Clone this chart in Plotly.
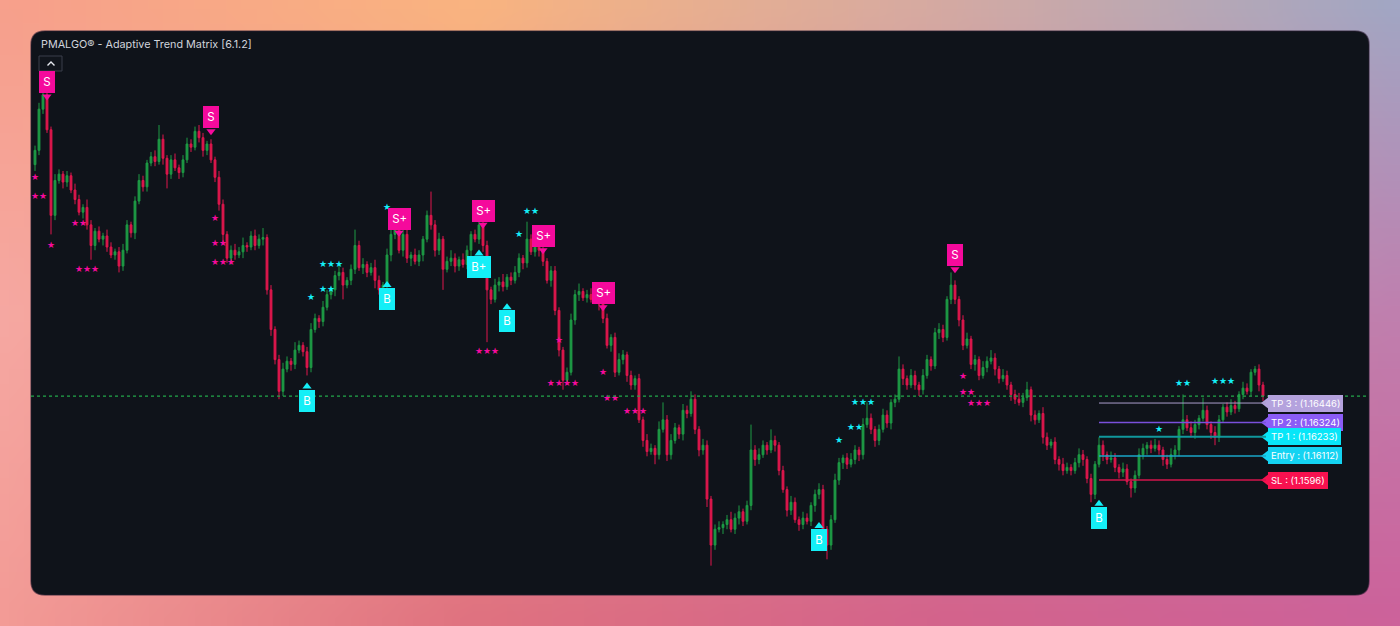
import base64, struct, zlib
import numpy as np
import plotly.graph_objects as go

# ---------------- data ----------------
first_open = 1.1795
closes = [
    1.1804,1.1830,1.1839,1.1817,1.1763,1.1785,1.1789,1.1784,1.1788,1.1779,
    1.1773,1.1765,1.1768,1.1757,1.1744,1.1753,1.1748,1.1750,1.1743,1.1738,
    1.1740,1.1731,1.1741,1.1757,1.1752,1.1772,1.1785,1.1781,1.1796,1.1800,
    1.1797,1.1811,1.1799,1.1789,1.1798,1.1793,1.1790,1.1798,1.1808,1.1806,
    1.1816,1.1812,1.1804,1.1808,1.1798,1.1787,1.1770,1.1751,1.1736,1.1741,
    1.1738,1.1740,1.1744,1.1743,1.1750,1.1744,1.1748,1.1749,1.1716,1.1691,
    1.1672,1.1652,1.1666,1.1671,1.1669,1.1678,1.1681,1.1677,1.1667,1.1691,
    1.1698,1.1696,1.1705,1.1713,1.1716,1.1725,1.1727,1.1719,1.1722,1.1729,
    1.1744,1.1730,1.1732,1.1727,1.1730,1.1722,1.1716,1.1719,1.1738,1.1751,
    1.1755,1.1741,1.1751,1.1736,1.1738,1.1734,1.1738,1.1748,1.1763,1.1757,
    1.1741,1.1748,1.1729,1.1734,1.1736,1.1731,1.1735,1.1732,1.1741,1.1751,
    1.1748,1.1757,1.1744,1.1716,1.1710,1.1719,1.1721,1.1718,1.1724,1.1722,
    1.1727,1.1736,1.1733,1.1748,1.1740,1.1743,1.1741,1.1734,1.1722,1.1728,
    1.1703,1.1678,1.1659,1.1664,1.1697,1.1713,1.1715,1.1711,1.1713,1.1710,
    1.1712,1.1707,1.1698,1.1681,1.1686,1.1664,1.1672,1.1675,1.1662,1.1656,
    1.1660,1.1634,1.1621,1.1614,1.1616,1.1612,1.1628,1.1634,1.1612,1.1621,
    1.1629,1.1625,1.1640,1.1638,1.1647,1.1628,1.1615,1.1618,1.1584,1.1555,
    1.1565,1.1566,1.1568,1.1571,1.1565,1.1572,1.1576,1.1570,1.1580,1.1615,
    1.1609,1.1612,1.1618,1.1615,1.1621,1.1618,1.1602,1.1590,1.1577,1.1582,
    1.1571,1.1568,1.1572,1.1570,1.1580,1.1587,1.1590,1.1565,1.1555,1.1571,
    1.1596,1.1607,1.1610,1.1606,1.1609,1.1615,1.1612,1.1631,1.1635,1.1628,
    1.1621,1.1628,1.1637,1.1632,1.1645,1.1647,1.1666,1.1660,1.1656,1.1662,
    1.1656,1.1653,1.1662,1.1672,1.1668,1.1689,1.1691,1.1686,1.1710,1.1719,
    1.1710,1.1697,1.1681,1.1685,1.1669,1.1672,1.1662,1.1667,1.1671,1.1673,
    1.1666,1.1660,1.1662,1.1656,1.1650,1.1647,1.1645,1.1648,1.1653,1.1637,
    1.1634,1.1638,1.1623,1.1618,1.1620,1.1609,1.1606,1.1602,1.1604,1.1602,
    1.1607,1.1612,1.1609,1.1597,1.1587,1.1606,1.1618,1.1612,1.1609,1.1610,
    1.1604,1.1601,1.1603,1.1595,1.1591,1.1599,1.1612,1.1616,1.1618,1.1616,
    1.1618,1.1615,1.1609,1.1606,1.1612,1.1615,1.1628,1.1634,1.1629,1.1626,
    1.1631,1.1635,1.1640,1.1631,1.1626,1.1623,1.1634,1.1642,1.1639,1.1643,
    1.1641,1.1650,1.1654,1.1652,1.1664,1.1666,1.1656,1.1649,
]
upper_wick_pips = [
    3,4,2,3,2,4,3,2,3,2,
    4,3,2,5,3,2,3,2,4,3,
    2,3,4,3,2,3,4,3,2,3,
    4,9,3,2,3,4,2,3,4,3,
    3,4,3,2,3,2,4,3,2,3,
    4,3,5,2,3,4,3,6,2,3,
    2,3,4,3,2,5,3,2,3,4,
    3,2,4,3,2,3,4,3,2,3,
    10,3,4,2,3,5,3,2,4,3,
    8,4,5,3,2,4,3,2,3,15,
    3,4,2,3,5,3,2,4,3,2,
    3,4,2,3,2,4,3,5,2,3,
    4,3,2,11,3,4,2,3,2,3,
    3,2,2,3,4,3,5,2,3,4,
    3,2,4,3,2,3,4,3,2,3,
    2,3,2,4,3,2,5,11,3,4,
    3,2,4,3,5,3,2,4,3,2,
    3,4,2,3,5,3,4,2,3,16,
    3,4,3,2,7,3,2,3,2,4,
    3,2,4,3,2,3,4,3,2,3,
    4,3,2,3,4,3,2,4,10,3,
    2,3,4,3,2,3,8,3,2,4,
    3,2,4,3,2,3,4,3,2,8,
    3,2,3,4,2,3,2,4,3,5,
    3,2,4,3,2,3,4,3,5,2,
    3,2,4,3,2,3,2,4,3,2,
    3,4,3,2,3,2,5,3,2,4,
    3,2,4,3,2,3,4,3,2,3,
    4,3,2,3,4,3,2,16,3,4,
    3,2,8,3,2,4,3,2,3,4,
    3,2,4,3,2,2,3,2,
]
lower_wick_pips = [
    4,3,3,2,12,3,2,4,3,2,
    3,2,4,3,9,3,2,4,3,2,
    3,4,3,2,3,4,2,3,3,2,
    3,2,4,9,3,2,4,3,2,3,
    2,3,4,3,2,3,4,5,3,4,
    3,2,4,3,2,3,2,4,3,4,
    3,5,3,2,4,3,2,3,5,3,
    2,4,3,2,3,4,3,9,2,3,
    3,2,4,3,2,5,3,2,3,4,
    3,2,4,3,5,2,3,4,2,3,
    4,3,13,2,3,4,3,2,3,4,
    2,3,4,33,3,2,4,3,2,3,
    2,3,4,3,2,3,4,3,2,4,
    3,4,6,3,2,3,4,2,3,2,
    3,4,3,2,4,3,2,3,4,3,
    3,2,4,3,2,6,3,2,4,3,
    2,3,4,3,2,3,4,3,5,13,
    3,2,4,3,2,3,4,3,2,3,
    4,3,2,3,2,4,3,2,4,3,
    2,4,3,2,3,4,3,4,9,3,
    2,3,4,3,2,3,4,3,2,3,
    4,3,2,3,4,3,2,4,3,2,
    3,4,3,2,3,2,4,3,2,3,
    3,4,3,2,3,4,3,2,3,2,
    4,3,2,3,4,3,2,3,2,4,
    3,2,4,3,2,3,4,3,2,3,
    2,3,4,3,5,3,2,4,3,2,
    3,4,3,2,6,3,2,3,4,3,
    2,3,4,3,2,3,4,3,2,3,
    4,3,2,3,4,5,3,2,3,2,
    3,2,3,2,3,2,4,3,
]

sell_idx = [3, 44, 91, 112, 127, 142, 230]
sell_tip = [1.1838, 1.1816, 1.1752, 1.1757, 1.1741, 1.1705, 1.1729]
sell_text = ["S", "S", "S+", "S+", "S+", "S+", "S"]

buy_idx = [68, 88, 111, 118, 196, 266]
buy_tip = [1.1655, 1.1719, 1.1739, 1.1705, 1.1567, 1.1581]
buy_text = ["B", "B", "B+", "B", "B", "B"]

bear_star_idx = [0, 1, 4, 11, 13, 45, 46, 47, 113, 131, 132, 142, 144, 150, 232, 233, 236]
bear_star_price = [1.1787, 1.1775, 1.1744, 1.1758, 1.1729, 1.1761, 1.1745, 1.1733, 1.1677,
                   1.1684, 1.1657, 1.1664, 1.1647, 1.1639, 1.1661, 1.1651, 1.1644]
bear_star_count = [1, 2, 1, 2, 3, 1, 2, 3, 3, 1, 4, 1, 2, 3, 1, 2, 3]

bull_star_idx = [69, 73, 74, 88, 121, 124, 201, 205, 207, 281, 287, 297]
bull_star_price = [1.1711, 1.1716, 1.1732, 1.1768, 1.1751, 1.1765, 1.1621, 1.1629, 1.1645,
                   1.1628, 1.1657, 1.1658]
bull_star_count = [1, 2, 3, 1, 1, 2, 1, 2, 3, 1, 2, 3]

level_names = ["TP 3", "TP 2", "TP 1", "Entry", "SL"]
level_values = [1.16446, 1.16324, 1.16233, 1.16112, 1.1596]
level_start_idx = 266
label_ptr_idx = 307.75

title_text = "PMALGO® - Adaptive Trend Matrix [6.1.2]"

# ---------------- styling ----------------
W, H = 1400, 626
ML, MR, MT, MB = 31, 31, 31, 31
PW, PH = W - ML - MR, H - MT - MB
UP, DOWN = "#1e9b45", "#e0174d"
SELL_C, BUY_C = "#f50a9c", "#14eff7"
level_line_colors = ["#a99dcc", "#7a4fdc", "#10979c", "#1aa7c8", "#d3164c"]
level_label_bg = ["#b4a2dd", "#8b5cf6", "#08e6f8", "#14d3f2", "#f8114f"]


def pxx(px):
    return (px - ML) / PW


def pxy(py):
    return 1 - (py - MT) / PH


def png_uri(arr):
    h, w, _ = arr.shape
    raw = b"".join(b"\x00" + arr[r].astype(np.uint8).tobytes() for r in range(h))

    def chunk(t, d):
        return struct.pack(">I", len(d)) + t + d + struct.pack(">I", zlib.crc32(t + d) & 0xFFFFFFFF)

    png = (b"\x89PNG\r\n\x1a\n" + chunk(b"IHDR", struct.pack(">IIBBBBB", w, h, 8, 2, 0, 0, 0))
           + chunk(b"IDAT", zlib.compress(raw)) + chunk(b"IEND", b""))
    return "data:image/png;base64," + base64.b64encode(png).decode()


# background gradient (styling only)
anchors = np.array([
    [(247, 160, 140), (250, 180, 128), (214, 170, 162), (162, 166, 196)],
    [(246, 168, 162), (236, 150, 140), (206, 138, 160), (192, 128, 175)],
    [(243, 155, 150), (224, 115, 128), (212, 100, 140), (205, 98, 155)],
], dtype=float)
GH, GW = 40, 90
ry = np.linspace(0, anchors.shape[0] - 1, GH)
rx = np.linspace(0, anchors.shape[1] - 1, GW)
grad = np.zeros((GH, GW, 3))
for a, yv in enumerate(ry):
    y0 = min(int(yv), anchors.shape[0] - 2); fy = yv - y0
    for b, xv in enumerate(rx):
        x0 = min(int(xv), anchors.shape[1] - 2); fx = xv - x0
        c = (anchors[y0, x0] * (1 - fx) * (1 - fy) + anchors[y0, x0 + 1] * fx * (1 - fy)
             + anchors[y0 + 1, x0] * (1 - fx) * fy + anchors[y0 + 1, x0 + 1] * fx * fy)
        grad[a, b] = c
bg_uri = png_uri(np.clip(grad, 0, 255))

# ---------------- candles ----------------
x = list(range(len(closes)))
opens = [first_open] + closes[:-1]
highs = [max(o, c) + u / 10000 for o, c, u in zip(opens, closes, upper_wick_pips)]
lows = [min(o, c) - l / 10000 for o, c, l in zip(opens, closes, lower_wick_pips)]

fig = go.Figure()
fig.add_trace(go.Candlestick(
    x=x, open=opens, high=highs, low=lows, close=closes,
    increasing=dict(line=dict(color=UP, width=1), fillcolor=UP),
    decreasing=dict(line=dict(color=DOWN, width=1), fillcolor=DOWN),
    whiskerwidth=0, showlegend=False, hoverinfo="skip",
))

# stars
fig.add_trace(go.Scatter(
    x=bear_star_idx, y=bear_star_price, mode="text",
    text=["★" * n for n in bear_star_count],
    textfont=dict(size=9, color=SELL_C, family="DejaVu Sans"),
    showlegend=False, hoverinfo="skip"))
fig.add_trace(go.Scatter(
    x=bull_star_idx, y=bull_star_price, mode="text",
    text=["★" * n for n in bull_star_count],
    textfont=dict(size=9, color=BUY_C, family="DejaVu Sans"),
    showlegend=False, hoverinfo="skip"))

# signal pointers
fig.add_trace(go.Scatter(x=sell_idx, y=sell_tip, mode="markers",
                         marker=dict(symbol="triangle-down", size=8, color=SELL_C),
                         showlegend=False, hoverinfo="skip"))
fig.add_trace(go.Scatter(x=buy_idx, y=buy_tip, mode="markers",
                         marker=dict(symbol="triangle-up", size=8, color=BUY_C),
                         showlegend=False, hoverinfo="skip"))
# level label pointers
fig.add_trace(go.Scatter(x=[label_ptr_idx] * len(level_values), y=level_values, mode="markers",
                         marker=dict(symbol="triangle-left", size=10, color=level_label_bg),
                         showlegend=False, hoverinfo="skip"))

annotations = []
for i, tp, t in zip(sell_idx, sell_tip, sell_text):
    annotations.append(dict(x=i, y=tp, xref="x", yref="y", text=t, showarrow=False,
                            yanchor="bottom", yshift=3, bgcolor=SELL_C, bordercolor=SELL_C,
                            borderpad=3.2, font=dict(size=11.5, color="#ffffff", family="Inter")))
for i, tp, t in zip(buy_idx, buy_tip, buy_text):
    annotations.append(dict(x=i, y=tp, xref="x", yref="y", text=t, showarrow=False,
                            yanchor="top", yshift=-3, bgcolor=BUY_C, bordercolor=BUY_C,
                            borderpad=3.2, font=dict(size=11.5, color="#ffffff", family="Inter")))
for name, v, bgc in zip(level_names, level_values, level_label_bg):
    annotations.append(dict(x=label_ptr_idx, y=v, xref="x", yref="y",
                            text=f"{name} : ({v})", showarrow=False, xanchor="left", xshift=2,
                            bgcolor=bgc, bordercolor=bgc, borderpad=2,
                            font=dict(size=9.5, color="#ffffff", family="Inter")))
annotations.append(dict(x=pxx(38.5), y=pxy(44), xref="paper", yref="paper", text=title_text,
                        showarrow=False, xanchor="left", yanchor="middle",
                        font=dict(size=10.8, color="#d1d4dc", family="Inter")))

shapes = []
# rounded dark frame
rx_, ry_ = 14 / PW, 14 / PH
frame_path = (f"M {rx_},0 L {1-rx_},0 Q 1,0 1,{ry_} L 1,{1-ry_} Q 1,1 {1-rx_},1 "
              f"L {rx_},1 Q 0,1 0,{1-ry_} L 0,{ry_} Q 0,0 {rx_},0 Z")
shapes.append(dict(type="path", path=frame_path, xref="paper", yref="paper",
                   fillcolor="#0f131a", line=dict(color="rgba(40,28,48,0.55)", width=1.5),
                   layer="below"))
# collapse button
shapes.append(dict(type="rect", xref="paper", yref="paper", x0=pxx(39), x1=pxx(62),
                   y0=pxy(71), y1=pxy(56), line=dict(color="#3a3f4a", width=1),
                   fillcolor="#11151c", layer="below"))
shapes.append(dict(type="path", xref="paper", yref="paper",
                   path=f"M {pxx(47.5)},{pxy(65.5)} L {pxx(51)},{pxy(62)} L {pxx(54.5)},{pxy(65.5)}",
                   line=dict(color="#e6e8ee", width=1.4), layer="below"))
# current price dotted line
shapes.append(dict(type="line", xref="paper", yref="y", x0=0, x1=1, y0=closes[-1], y1=closes[-1],
                   line=dict(color="#23a84a", width=1.2, dash="dot"), layer="above"))
# level lines
lw = [1, 1.5, 2, 1.5, 1.5]
for v, c, w in zip(level_values, level_line_colors, lw):
    shapes.append(dict(type="line", xref="x", yref="y", x0=level_start_idx, x1=label_ptr_idx,
                       y0=v, y1=v, line=dict(color=c, width=w), layer="above"))

fig.update_layout(
    width=W, height=H, autosize=False,
    margin=dict(l=ML, r=MR, t=MT, b=MB, pad=0),
    paper_bgcolor="#e9a09a", plot_bgcolor="rgba(0,0,0,0)",
    xaxis=dict(visible=False, range=[-1, 333.5], rangeslider=dict(visible=False), fixedrange=True),
    yaxis=dict(visible=False, range=[1.15235, 1.18793], fixedrange=True),
    boxgap=0.35,
    shapes=shapes, annotations=annotations,
    images=[dict(source=bg_uri, xref="paper", yref="paper", x=-ML / PW, y=1 + MT / PH,
                 sizex=W / PW, sizey=H / PH, xanchor="left", yanchor="top",
                 sizing="stretch", layer="below")],
    showlegend=False,
)

fig.write_html("out.html", config={"displayModeBar": False},
               post_script="document.body.style.margin='0';document.body.style.overflow='hidden';")
